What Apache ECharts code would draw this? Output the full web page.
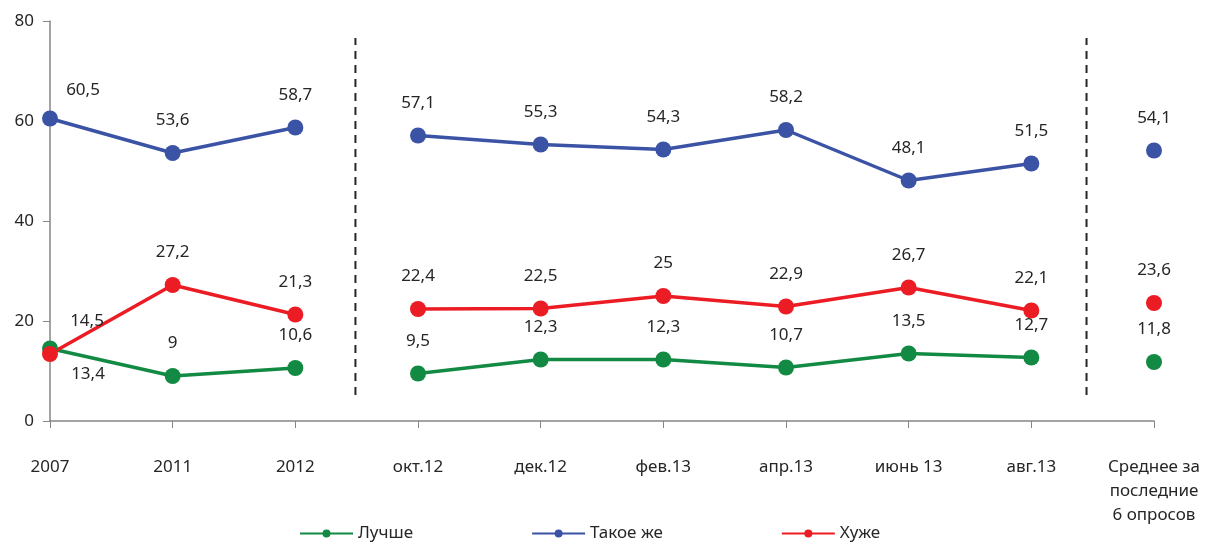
<!DOCTYPE html>
<html>
<head>
<meta charset="utf-8">
<script src="https://cdn.jsdelivr.net/npm/echarts@6/dist/echarts.min.js"></script>
<style>
    html, body { margin: 0; padding: 0; background: #fff; }
    #chart { width: 1205px; height: 547px; }
</style>
</head>
<body>
<div id="chart"></div>
<script>
var categories = ['2007', '2011', '2012', 'окт.12', 'дек.12', 'фев.13', 'апр.13', 'июнь 13', 'авг.13', 'Среднее за\nпоследние\n6 опросов'];
var better = [14.5, 9, 10.6, 9.5, 12.3, 12.3, 10.7, 13.5, 12.7, 11.8];
var same = [60.5, 53.6, 58.7, 57.1, 55.3, 54.3, 58.2, 48.1, 51.5, 54.1];
var worse = [13.4, 27.2, 21.3, 22.4, 22.5, 25, 22.9, 26.7, 22.1, 23.6];
var yTicks = [0, 20, 40, 60, 80];

// отрезки, которые соединяются линией
var segments = [[0, 2], [3, 8], [9, 9]];
// пунктирные разделители (позиция по оси x, от/до по y)
var dividers = [2.49, 8.45];
var dividerRange = [5.2, 76.6];

var colorGreen = '#138a43';
var colorBlue = '#3b53a5';
var colorRed = '#ec1c24';
var textColor = '#262626';
var fontFamily = '"Noto Sans", sans-serif';

// ручные сдвиги подписей у первой точки
var labelTweaks = {
    'Лучше': { 0: { offset: [37, 5] } },
    'Такое же': { 0: { offset: [33, 4] } },
    'Хуже': { 0: { position: 'bottom', offset: [38, -12] } }
};

function fmt(v) {
    return String(v).replace('.', ',');
}

function buildSeries(name, values, color) {
    var list = [];
    segments.forEach(function (seg) {
        var data = values.map(function (v, idx) {
            if (idx < seg[0] || idx > seg[1]) return '-';
            var item = { value: v };
            var tw = labelTweaks[name] && labelTweaks[name][idx];
            if (tw) item.label = tw;
            return item;
        });
        list.push({
            name: name,
            type: 'line',
            symbol: 'circle',
            symbolSize: 16,
            lineStyle: { width: 3.5, color: color },
            itemStyle: { color: color },
            label: {
                show: true,
                position: 'top',
                distance: 16,
                color: textColor,
                fontSize: 17,
                fontFamily: fontFamily,
                formatter: function (p) { return fmt(p.value); }
            },
            emphasis: { disabled: true },
            data: data
        });
    });
    return list;
}

var series = [];
series = series.concat(buildSeries('Лучше', better, colorGreen));
series = series.concat(buildSeries('Такое же', same, colorBlue));
series = series.concat(buildSeries('Хуже', worse, colorRed));

dividers.forEach(function (x) {
    series.push({
        type: 'line',
        xAxisIndex: 1,
        symbol: 'none',
        silent: true,
        lineStyle: { color: '#262626', width: 2, type: [8, 6] },
        data: [[x, dividerRange[0]], [x, dividerRange[1]]]
    });
});

var myChart = echarts.init(document.getElementById('chart'));
var option = {
    animation: false,
    backgroundColor: '#fff',
    grid: { left: 50, right: 51, top: 21, bottom: 126, containLabel: false },
    legend: {
        data: ['Лучше', 'Такое же', 'Хуже'],
        left: 294,
        bottom: 0,
        itemWidth: 53,
        itemHeight: 10,
        itemGap: 118,
        textStyle: { color: textColor, fontSize: 17, fontFamily: fontFamily }
    },
    xAxis: [{
        type: 'category',
        data: categories,
        boundaryGap: false,
        axisLine: { lineStyle: { color: '#868686', width: 1.5 } },
        axisTick: { show: true, length: 7, lineStyle: { color: '#868686' } },
        axisLabel: {
            color: textColor,
            fontSize: 17,
            fontFamily: fontFamily,
            margin: 34,
            lineHeight: 24,
            interval: 0
        }
    }, {
        type: 'value',
        min: 0,
        max: 9,
        show: false
    }],
    yAxis: {
        type: 'value',
        min: yTicks[0],
        max: yTicks[yTicks.length - 1],
        interval: 20,
        splitLine: { show: false },
        axisLine: { show: true, lineStyle: { color: '#868686', width: 1.5 } },
        axisTick: { show: true, length: 7, lineStyle: { color: '#868686' } },
        axisLabel: { color: textColor, fontSize: 17, fontFamily: fontFamily, margin: 16 }
    },
    series: series
};
myChart.setOption(option, true);
window.onresize = myChart.resize;
</script>
</body>
</html>
